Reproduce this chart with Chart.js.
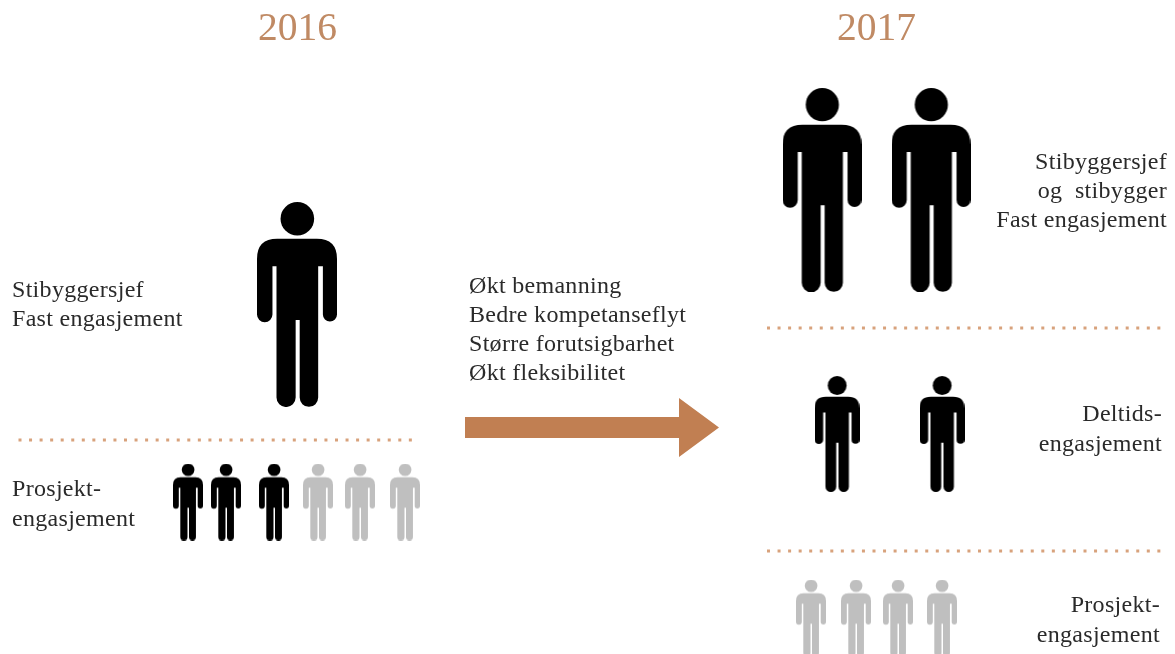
<!DOCTYPE html>
<html>
<head>
    <title>Bemanning 2016 - 2017</title>
    <script src="https://cdn.jsdelivr.net/npm/chart.js@4/dist/chart.umd.min.js"></script>
    <style>
        html, body { margin: 0; padding: 0; background: #fff; overflow: hidden; }
        canvas { display: block; }
    </style>
</head>
<body>
    <canvas id="staffChart" width="1175" height="654"></canvas>

    <script>
        // Person positions, axis units run 0-1175 / 0-654 from the top left
        const core2016X = [297];
        const core2016Y = [304.5];
        const project2016BlackX = [188, 226, 274];
        const project2016GreyX = [318, 360, 405];
        const project2016Y = 502;
        const core2017X = [822, 931];
        const core2017Y = 190;
        const part2017X = [837, 942];
        const part2017Y = 434;
        const project2017X = [811, 856, 898, 942];
        const project2017Y = 618;

        // Dotted dividers: [x from, x to, y]
        const divider2016 = [18.5, 412, 440];
        const divider2017Top = [767, 1161, 328];
        const divider2017Bottom = [767, 1161, 551];

        // Arrow outline
        const arrowX = [465, 679, 679, 719, 679, 679, 465];
        const arrowY = [417, 417, 398, 427.5, 457, 438, 438];

        // Text
        const titles = ['2016', '2017'];
        const titleX = [297.5, 876.5];
        const titleY = [30, 30];
        const leftLabels = ['Stibyggersjef', 'Fast engasjement', 'Prosjekt-', 'engasjement'];
        const leftLabelY = [291, 320, 490, 520];
        const midLabels = ['Økt bemanning', 'Bedre kompetanseflyt', 'Større forutsigbarhet', 'Økt fleksibilitet'];
        const midLabelY = [287, 316, 345, 374];
        const rightLabels = ['Stibyggersjef', 'og  stibygger', 'Fast engasjement', 'Deltids-', 'engasjement', 'Prosjekt-', 'engasjement'];
        const rightLabelX = [1167, 1167, 1167, 1162, 1162, 1160, 1160];
        const rightLabelY = [163, 192, 221, 415, 445, 606, 636];

        const black = '#000000';
        const grey = '#bfbfbf';
        const copper = '#c17f52';
        const dots = '#d8a27c';
        const serif = '"Liberation Serif", serif';

        // Draws the person icon on its own canvas, used as point style
        function person(height, color) {
            const c = document.createElement('canvas');
            const s = height / 612;
            c.width = Math.round(238 * s);
            c.height = height;
            const g = c.getContext('2d');
            g.filter = 'blur(0.5px)'; // the source picture is a soft scan
            g.scale(c.width / 238, s);
            g.fillStyle = color;
            g.beginPath();
            g.arc(120, 50, 50, 0, Math.PI * 2);
            g.fill();
            g.beginPath();
            g.moveTo(60, 110);
            g.lineTo(178, 110);
            g.quadraticCurveTo(238, 110, 238, 170);
            g.lineTo(238, 336);
            g.arc(217, 336, 21, 0, Math.PI);
            g.lineTo(196, 192);
            g.lineTo(182, 192);
            g.lineTo(182, 584);
            g.arc(154.5, 584, 27.5, 0, Math.PI);
            g.lineTo(127, 352);
            g.lineTo(115, 352);
            g.lineTo(115, 584);
            g.arc(86.5, 584, 28.5, 0, Math.PI);
            g.lineTo(58, 192);
            g.lineTo(46, 192);
            g.lineTo(46, 336);
            g.arc(23, 336, 23, 0, Math.PI);
            g.lineTo(0, 170);
            g.quadraticCurveTo(0, 110, 60, 110);
            g.fill();
            return c;
        }

        function people(xs, y, height, color) {
            return {
                type: 'scatter',
                data: xs.map((x, i) => ({ x: x, y: Array.isArray(y) ? y[i] : y })),
                pointStyle: person(height, color),
                pointRadius: 10,
                showLine: false
            };
        }

        function divider(d) {
            return {
                type: 'line',
                data: [{ x: d[0], y: d[2] }, { x: d[1], y: d[2] }],
                borderColor: dots,
                borderWidth: 3,
                borderDash: [3, 7.55],
                pointRadius: 0
            };
        }

        // Writes the labels through the same scales as the marks
        const textPlugin = {
            id: 'texts',
            afterDatasetsDraw(chart) {
                const ctx = chart.ctx;
                const sx = chart.scales.x;
                const sy = chart.scales.y;
                const write = (items, xs, ys, align, font, color, spacing) => {
                    ctx.font = font;
                    ctx.fillStyle = color;
                    ctx.textAlign = align;
                    ctx.textBaseline = 'middle';
                    ctx.letterSpacing = spacing;
                    items.forEach((t, i) => {
                        const x = Array.isArray(xs) ? xs[i] : xs;
                        ctx.fillText(t, sx.getPixelForValue(x), sy.getPixelForValue(ys[i]));
                    });
                };
                ctx.save();
                write(titles, titleX, titleY, 'center', '39.5px ' + serif, '#c08a64', '0px');
                write(leftLabels, 12, leftLabelY, 'left', '24px ' + serif, '#2a2a2a', '0.3px');
                write(midLabels, 469, midLabelY, 'left', '24px ' + serif, '#2a2a2a', '0.3px');
                write(rightLabels, rightLabelX, rightLabelY, 'right', '24px ' + serif, '#2a2a2a', '0.3px');
                ctx.restore();
            }
        };

        new Chart(document.getElementById('staffChart'), {
            data: {
                datasets: [
                    people(core2016X, core2016Y[0], 205, black),
                    people(project2016BlackX, project2016Y, 77, black),
                    people(project2016GreyX, project2016Y, 77, grey),
                    people(core2017X, core2017Y, 204, black),
                    people(part2017X, part2017Y, 116, black),
                    people(project2017X, project2017Y, 77, grey),
                    divider(divider2016),
                    divider(divider2017Top),
                    divider(divider2017Bottom),
                    {
                        type: 'line',
                        data: arrowX.map((x, i) => ({ x: x, y: arrowY[i] })),
                        borderWidth: 0,
                        backgroundColor: copper,
                        fill: 'shape',
                        pointRadius: 0,
                        tension: 0
                    }
                ]
            },
            options: {
                responsive: false,
                animation: false,
                layout: { padding: 0, autoPadding: false },
                plugins: { legend: { display: false }, tooltip: { enabled: false } },
                scales: {
                    x: { type: 'linear', display: false, min: 0, max: 1175 },
                    y: { type: 'linear', display: false, min: 0, max: 654, reverse: true }
                }
            },
            plugins: [textPlugin]
        });
    </script>
</body>
</html>
